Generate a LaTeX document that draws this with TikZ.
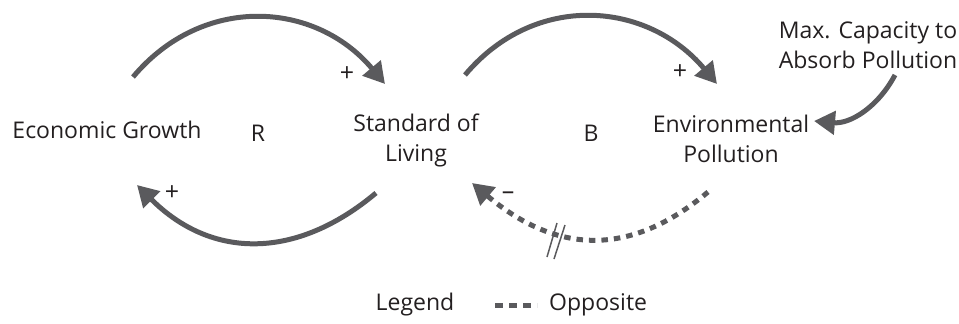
\documentclass[tikz,border=0pt]{standalone}
\usepackage{fontspec}
\setmainfont{Open Sans}
\usetikzlibrary{arrows.meta}
\definecolor{arrowgray}{HTML}{5A5A5D}
\definecolor{textdark}{HTML}{231F20}
\tikzset{
  lbl/.style={font=\fontsize{23}{30}\selectfont, text=textdark, align=center, inner sep=0pt},
  sgn/.style={font=\fontsize{25}{26}\selectfont, text=textdark, inner sep=0pt},
  link/.style={draw=arrowgray, line width=5pt, -{Triangle[length=21pt,width=23pt]}},
  opplink/.style={link, dash pattern=on 6.5pt off 6pt},
  delaymark/.style={draw=arrowgray, line width=1.5pt},
}
\begin{document}
\begin{tikzpicture}[x=1pt,y=1pt]
\useasboundingbox (0,0) rectangle (959,-324);
% nodes
\node[lbl] (eg) at (107,-130) {Economic Growth};
\node[lbl] (r) at (258,-133) {R};
\node[lbl] (sl) at (416,-140) {Standard of\\Living};
\node[lbl] (b) at (591,-133) {B};
\node[lbl] (ep) at (731,-139) {Environmental\\Pollution};
\node[lbl] (mc) at (868,-45) {Max. Capacity to\\Absorb Pollution};
% connector end points
\coordinate (a1s) at (133,-77);
\coordinate (a1e) at (385,-84);
\coordinate (a2s) at (465,-75);
\coordinate (a2e) at (717,-84);
\coordinate (a3s) at (376,-193);
\coordinate (a3e) at (137,-185);
\coordinate (a4s) at (708,-192);
\coordinate (a4e) at (472,-183);
\coordinate (a5s) at (895,-75);
\coordinate (a5e) at (814,-121);
% connectors
\draw[link] (a1s) to[out=50,in=130,looseness=1.1] (a1e);
\draw[link] (a2s) to[out=50,in=130,looseness=1.1] (a2e);
\draw[link] (a3s) to[out=-140,in=-45,looseness=1.12] (a3e);
\draw[opplink] (a4s) to[out=-140,in=-40,looseness=1.15] (a4e);
\draw[link] (a5s) to[out=-118,in=-5,looseness=1.0] (a5e);
% delay mark
\draw[delaymark] (547,-257) -- (557,-223);
\draw[delaymark] (554,-259) -- (565,-225);
% polarity signs
\node[sgn] (p1) at (347,-74) {+};
\node[sgn] (p2) at (680,-72) {+};
\node[sgn] (p3) at (172,-193) {+};
\node[sgn] (p4) at (508,-196) {–};
% legend
\node[lbl] (lg) at (415,-305) {Legend};
\coordinate (ls) at (495,-305);
\coordinate (le) at (537,-305);
\draw[draw=arrowgray, line width=5pt, dash pattern=on 8pt off 6pt] (ls) -- (le);
\node[lbl, anchor=west] (opp) at (549,-305) {Opposite};
\end{tikzpicture}
\end{document}
